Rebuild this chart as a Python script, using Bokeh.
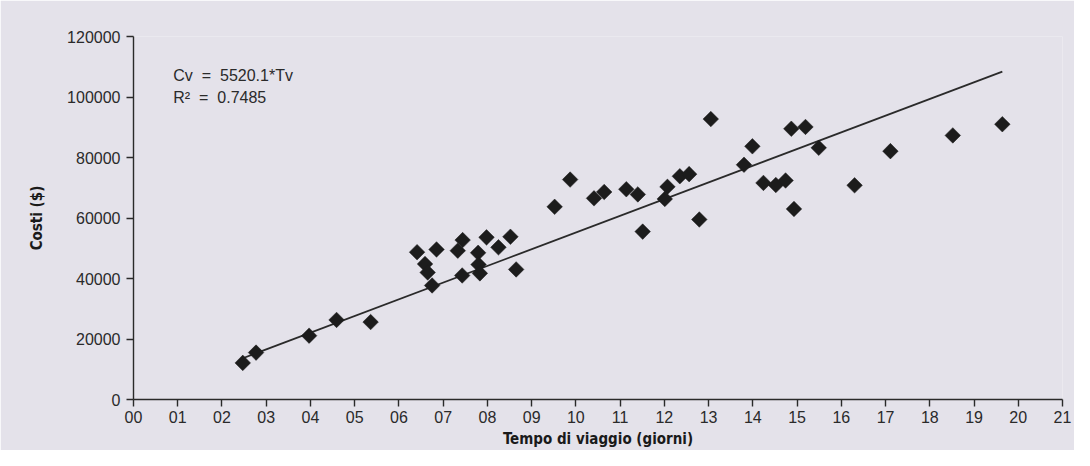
import math
from bokeh.plotting import figure
from bokeh.models import Range1d, FixedTicker, Label
from bokeh.embed import file_html
from bokeh.resources import INLINE

# ---- data ----
travel_days = [2.47, 2.77, 3.97, 4.59, 5.36, 6.41, 6.85, 7.44, 7.33, 7.98,
               8.52, 8.25, 7.79, 6.59, 6.65, 7.80, 7.83, 7.43, 8.65, 6.75,
               9.52, 9.87, 10.41, 10.64, 11.14, 11.40, 11.51, 12.07, 12.01, 12.35,
               12.56, 12.79, 13.05, 13.80, 13.99, 14.24, 14.52, 14.74, 14.93, 14.87,
               15.19, 15.49, 16.30, 17.11, 18.52, 19.64]
cost_usd = [12100, 15500, 21100, 26300, 25600, 48700, 49600, 52700, 49200, 53600,
            53800, 50300, 48500, 44800, 42000, 44600, 41700, 41000, 43000, 37700,
            63700, 72700, 66500, 68600, 69500, 67800, 55500, 70300, 66300, 73800,
            74500, 59500, 92700, 77600, 83700, 71600, 70900, 72400, 63000, 89500,
            90100, 83200, 70800, 82100, 87300, 91000]
SLOPE = 5520.1
R2 = 0.7485

x_tick_values = list(range(0, 22))
x_tick_labels = ["00", "01", "02", "03", "04", "05", "06", "07", "08", "09", "10",
                 "11", "12", "13", "14", "15", "16", "17", "18", "19", "20", "21"]
y_tick_values = [0, 20000, 40000, 60000, 80000, 100000, 120000]
y_tick_labels = ["0", "20000", "40000", "60000", "80000", "100000", "120000"]

X_TITLE = "Tempo di viaggio (giorni)"
Y_TITLE = "Costi ($)"

# ---- style ----
BG = "#e4e2ea"
INK = "#2a2a2a"
MARK = "#1c1c1c"
FONT = "'Liberation Sans', Arial, sans-serif"
BOLD_FONT = "'Liberation Sans Narrow', 'DejaVu Sans Condensed', sans-serif"
NB = "\u00a0"

p = figure(width=1074, height=450, output_backend="svg", toolbar_location=None,
           x_range=Range1d(0, 21), y_range=Range1d(0, 120000),
           min_border_left=133, min_border_right=12, min_border_top=36,
           min_border_bottom=48)
p.background_fill_color = BG
p.border_fill_color = BG
p.outline_line_color = None
p.grid.visible = False

# axes
for ax in (p.xaxis[0], p.yaxis[0]):
    ax.axis_line_color = INK
    ax.axis_line_width = 1.4
    ax.major_tick_line_color = INK
    ax.major_tick_line_width = 1.4
    ax.major_tick_in = 0
    ax.major_tick_out = 7
    ax.minor_tick_line_color = None
    ax.major_label_text_font = FONT
    ax.major_label_text_font_size = "16px"
    ax.major_label_text_color = INK
    ax.axis_label_text_font = BOLD_FONT
    ax.axis_label_text_font_style = "bold"
    ax.axis_label_text_font_size = "15px"
    ax.axis_label_text_color = "#1a1a1a"

p.xaxis.ticker = FixedTicker(ticks=x_tick_values)
p.xaxis.major_label_overrides = dict(zip(x_tick_values, x_tick_labels))
p.xaxis.major_label_standoff = 4
p.xaxis.axis_label = X_TITLE
p.xaxis.axis_label_standoff = 4

p.yaxis.ticker = FixedTicker(ticks=y_tick_values)
p.yaxis.major_label_overrides = dict(zip(y_tick_values, y_tick_labels))
p.yaxis.major_label_standoff = 6
p.yaxis.axis_label = Y_TITLE
p.yaxis.axis_label_standoff = 18

# regression line through origin over data range
x_lo, x_hi = min(travel_days), max(travel_days)
p.line([x_lo, x_hi], [SLOPE * x_lo, SLOPE * x_hi], line_color=INK, line_width=1.8)

# points
p.scatter(travel_days, cost_usd, marker="square", size=11, angle=math.pi / 4,
          fill_color=MARK, line_color=MARK, line_width=0.5)

# annotation
p.add_layout(Label(x=0.9, y=107200, text="Cv" + NB * 2 + "=" + NB * 2 + "%.1f*Tv" % SLOPE,
                   text_font=FONT, text_font_size="16px", text_color=INK,
                   text_baseline="middle"))
p.add_layout(Label(x=0.9, y=100000, text="R²" + NB * 2 + "=" + NB * 2 + "%.4f" % R2,
                   text_font=FONT, text_font_size="16px", text_color=INK,
                   text_baseline="middle"))

open("out.html", "w").write(file_html(p, INLINE))
